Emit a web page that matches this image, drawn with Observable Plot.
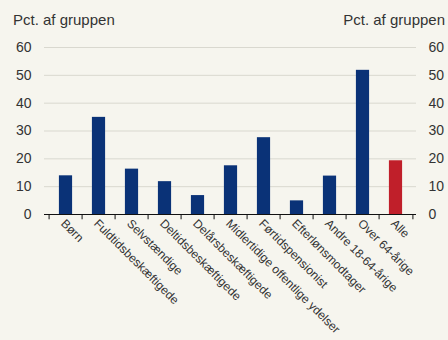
<!DOCTYPE html>
<html>
<head>
<meta charset="utf-8">
<script src="https://cdn.jsdelivr.net/npm/d3@7"></script>
<script src="https://cdn.jsdelivr.net/npm/@observablehq/plot@0.6"></script>
<style>
  html, body { margin: 0; padding: 0; background: #f6f5ee; }
  #wrap { position: relative; width: 448px; height: 340px; font-family: "Liberation Sans", Arial, sans-serif; color: #333; }
  #head { position: relative; height: 30px; }
  .ttl { position: absolute; top: 11px; font-size: 15px; line-height: 17px; white-space: nowrap; }
  #tl { left: 13px; }
  #tr { right: 3px; }
</style>
</head>
<body>
<div id="wrap">
  <div id="head"><div class="ttl" id="tl">Pct. af gruppen</div><div class="ttl" id="tr">Pct. af gruppen</div></div>
  <div id="chart"></div>
</div>
<script>
const categories = ["Børn", "Fuldtidsbeskæftigede", "Selvstændige", "Deltidsbeskæftigede", "Delårsbeskæftigede", "Midlertidige offentlige ydelser", "Førtidspensionist", "Efterlønsmodtager", "Andre 18-64-årige", "Over 64-årige", "Alle"];
const values = [13.9, 34.9, 16.3, 11.8, 6.8, 17.5, 27.6, 4.9, 13.8, 51.8, 19.3];
const yTicks = [0, 10, 20, 30, 40, 50, 60];
const highlighted = "Alle";

const data = categories.map((c, i) => ({cat: c, value: values[i]}));
const W = 448, ML = 44, MR = 32;
const step = (W - ML - MR) / categories.length;
const barW = 14;

const chart = Plot.plot({
  width: W,
  height: 310,
  marginTop: 17,
  marginBottom: 126,
  marginLeft: ML,
  marginRight: MR,
  style: {background: "transparent", fontFamily: "'Liberation Sans', Arial, sans-serif", fontSize: "14px", color: "#333"},
  x: {domain: categories, padding: 0},
  y: {domain: [0, 60]},
  marks: [
    Plot.gridY(yTicks.filter(t => t > 0), {stroke: "#d9d8cf", strokeOpacity: 1}),
    Plot.barY(data, {x: "cat", y: "value", fill: d => d.cat === highlighted ? "#c01f2a" : "#0a3277", insetLeft: (step - barW) / 2, insetRight: (step - barW) / 2}),
    Plot.ruleY([0], {stroke: "#111"}),
    Plot.ruleX(categories, {x: d => d, dx: -step / 2, y1: 0, y2: -1.9, stroke: "#111"}),
    Plot.ruleX([categories[categories.length - 1]], {x: d => d, dx: step / 2, y1: 0, y2: -1.9, stroke: "#111"}),
    Plot.axisY(yTicks, {anchor: "left", tickSize: 0, tickPadding: 13, label: null}),
    Plot.axisY(yTicks, {anchor: "right", tickSize: 0, tickPadding: 12, label: null}),
    Plot.axisX({tickSize: 0, tickRotate: 45, tickPadding: 7, dx: -3, fontSize: 12, label: null})
  ]
});
document.getElementById("chart").appendChild(chart);
</script>
</body>
</html>
